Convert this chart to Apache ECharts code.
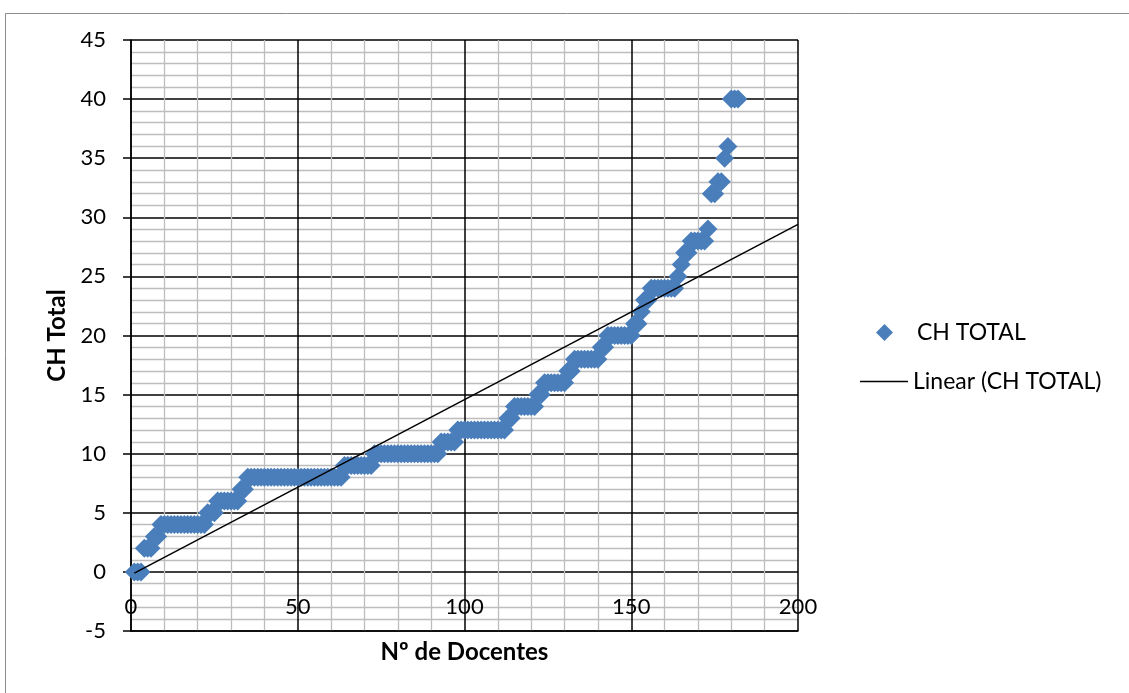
<!DOCTYPE html>
<html>
<head>
<meta charset="utf-8">
<script src="https://cdn.jsdelivr.net/npm/echarts@6/dist/echarts.min.js"></script>
<style>
html,body{margin:0;padding:0;background:#fff;}
#chart{width:1129px;height:693px;}
</style>
</head>
<body>
<div id="chart"></div>
<script>
// CH TOTAL for each docente, in order (x = 1..182)
const chTotal = [
  0,0,0, 2,2,2, 3,3,
  4,4,4,4,4,4,4,4,4,4,4,4,4,4,
  5,5,5, 6,6,6,6,6,6,6, 7,7,
  8,8,8,8,8,8,8,8,8,8,8,8,8,8,8,8,8,8,8,8,8,8,8,8,8,8,8,8,8,
  9,9,9,9,9,9,9,9,9,
  10,10,10,10,10,10,10,10,10,10,10,10,10,10,10,10,10,10,10,10,
  11,11,11,11,11,
  12,12,12,12,12,12,12,12,12,12,12,12,12,12,12,
  13,13, 14,14,14,14,14,14,14, 15,15,
  16,16,16,16,16,16,16, 17,17,
  18,18,18,18,18,18,18,18, 19,19,
  20,20,20,20,20,20,20,20, 21,21, 22, 23,23,
  24,24,24,24,24,24,24,24, 25, 26, 27,27,
  28,28,28,28,28, 29, 32,32, 33,33, 35, 36, 40,40,40
];
// Linear trendline end points
const trendX = [1, 200];
const trendY = [-0.1, 29.4];

const xTicks = { min: 0, max: 200, interval: 50 };
const yTicks = { min: -5, max: 45, interval: 5 };

const scatterData = chTotal.map((v, i) => [i + 1, v]);
const trendData = trendX.map((x, i) => [x, trendY[i]]);

const FONT = 'Lato';
const chart = echarts.init(document.getElementById('chart'), null, { renderer: 'canvas' });
chart.setOption({
  animation: false,
  backgroundColor: '#fff',
  textStyle: { fontFamily: FONT },
  graphic: [{
    type: 'rect', left: 3, top: 11, z: -10,
    shape: { width: 1300, height: 900 },
    style: { fill: 'none', stroke: '#8c8c8c', lineWidth: 1 }
  }],
  grid: { left: 131, right: 331, top: 40, bottom: 62, containLabel: false, outerBoundsMode: 'none' },
  legend: [{
    data: [{ name: 'CH TOTAL', icon: 'diamond' }],
    left: 871, top: 316, orient: 'vertical',
    itemWidth: 17, itemHeight: 17,
    textStyle: { fontFamily: FONT, fontSize: 23, color: '#000', padding: [0, 0, 0, 19] }
  }, {
    data: [{ name: 'Linear (CH TOTAL)', icon: 'rect' }],
    left: 855, top: 365, orient: 'vertical',
    itemWidth: 48, itemHeight: 1.5,
    textStyle: { fontFamily: FONT, fontSize: 23, color: '#000' }
  }],
  xAxis: {
    type: 'value', min: xTicks.min, max: xTicks.max, interval: xTicks.interval,
    name: 'Nº de Docentes', nameLocation: 'middle', nameGap: 9,
    nameTextStyle: { fontFamily: FONT, fontSize: 24, fontWeight: 'bold', color: '#000' },
    axisLine: { show: true, onZero: false, lineStyle: { color: '#000', width: 1.5 } },
    axisTick: { show: false },
    axisLabel: { inside: true, margin: 13, fontFamily: FONT, fontSize: 22, color: '#000' },
    splitLine: { show: true, lineStyle: { color: '#000', width: 1.5 } },
    minorTick: { show: false, splitNumber: 5 },
    minorSplitLine: { show: true, lineStyle: { color: '#bdbdbd', width: 1.3 } }
  },
  yAxis: {
    type: 'value', min: yTicks.min, max: yTicks.max, interval: yTicks.interval,
    name: 'CH Total', nameLocation: 'middle', nameGap: 61,
    nameTextStyle: { fontFamily: FONT, fontSize: 24, fontWeight: 'bold', color: '#000' },
    axisLine: { show: true, onZero: false, lineStyle: { color: '#000', width: 1.5 } },
    axisTick: { show: true, inside: false, length: 8, lineStyle: { color: '#000', width: 1.5 } },
    axisLabel: { margin: 25, fontFamily: FONT, fontSize: 22, color: '#000' },
    splitLine: { show: true, lineStyle: { color: '#000', width: 1.5 } },
    minorTick: { show: false, splitNumber: 5 },
    minorSplitLine: { show: true, lineStyle: { color: '#bdbdbd', width: 1.3 } }
  },
  series: [{
    name: 'CH TOTAL', type: 'scatter', symbol: 'diamond', symbolSize: 19,
    itemStyle: { color: '#4a7ebb', opacity: 1 },
    data: scatterData, z: 3
  }, {
    name: 'Linear (CH TOTAL)', type: 'line', symbol: 'none', showSymbol: false,
    lineStyle: { color: '#000', width: 1.5 },
    itemStyle: { color: '#000' },
    data: trendData, z: 4
  }]
});
</script>
</body>
</html>
